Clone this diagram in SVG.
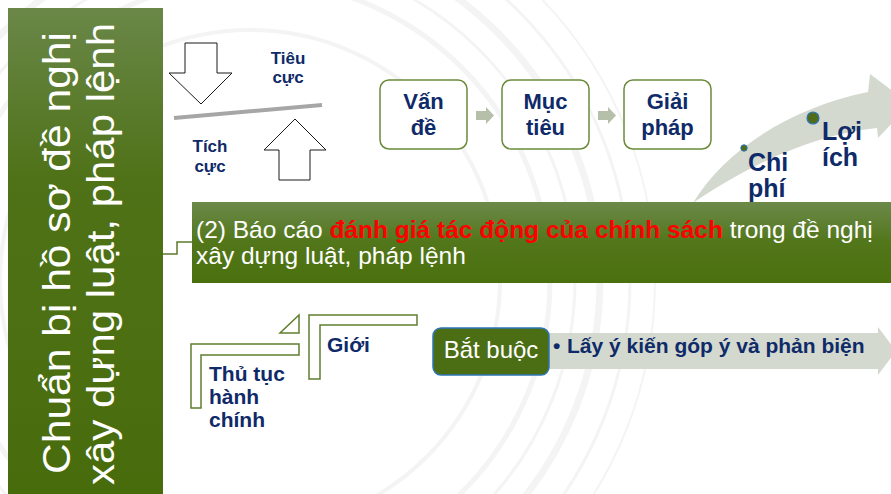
<svg xmlns="http://www.w3.org/2000/svg" width="891" height="494" viewBox="0 0 891 494">
<defs>
<linearGradient id="gBar" x1="0" y1="0" x2="0" y2="1">
<stop offset="0" stop-color="#6a8748"/>
<stop offset="0.35" stop-color="#4f7218"/>
<stop offset="1" stop-color="#486c0c"/>
</linearGradient>
<linearGradient id="gBand" x1="0" y1="0" x2="0" y2="1">
<stop offset="0" stop-color="#6b8a4a"/>
<stop offset="0.5" stop-color="#52761a"/>
<stop offset="1" stop-color="#4a700e"/>
</linearGradient>
<style>
.navy{fill:#0f2a68;font-family:"Liberation Sans",Arial,sans-serif;font-weight:bold}
.white{fill:#ffffff;font-family:"Liberation Sans",Arial,sans-serif}
.box{fill:#ffffff;stroke:#6a8a3a;stroke-width:1.5}
.ol{fill:#ffffff;stroke:#5f7f2f;stroke-width:1.5}
.blk{fill:#ffffff;stroke:#1a1a1a;stroke-width:1}
.grey{fill:#d3d9cf}
.arc{fill:none;stroke:#f4f4f4}
</style>
</defs>
<rect width="891" height="494" fill="#ffffff"/>
<g id="background">
<circle class="arc" cx="250" cy="280" r="250" stroke-width="4"/>
<circle class="arc" cx="250" cy="280" r="300" stroke-width="5"/>
<circle class="arc" cx="250" cy="280" r="325" stroke-width="3"/>
<circle class="arc" cx="250" cy="280" r="350" stroke-width="7"/>
<circle class="arc" cx="250" cy="280" r="380" stroke-width="3"/>
<circle class="arc" cx="250" cy="280" r="405" stroke-width="2"/>
</g>

<g id="title-bar">
<rect x="8" y="8" width="155" height="486" fill="url(#gBar)"/>
<text class="white" font-size="39" text-anchor="middle" transform="translate(70,253) rotate(-90)" textLength="442" lengthAdjust="spacingAndGlyphs">Chuẩn bị hồ sơ đề nghị</text>
<text class="white" font-size="39" text-anchor="middle" transform="translate(114,254) rotate(-90)" textLength="462" lengthAdjust="spacingAndGlyphs">xây dựng luật, pháp lệnh</text>
</g>

<g id="balance">
<polygon class="blk" points="185,43 217,43 217,73 232,73 201,104 169,73 185,73"/>
<line x1="174" y1="118" x2="322" y2="105" stroke="#a6a6a6" stroke-width="4"/>
<polygon class="blk" points="295,119 326,150 310,150 310,180 279,180 279,150 264,150"/>
<text class="navy" font-size="17" text-anchor="middle"><tspan x="288" y="64">Tiêu</tspan><tspan x="288" y="83">cực</tspan></text>
<text class="navy" font-size="17" text-anchor="middle"><tspan x="210" y="152">Tích</tspan><tspan x="210" y="172">cực</tspan></text>
</g>

<g id="node-van-de">
<rect class="box" x="380" y="80" width="87" height="69" rx="9"/>
<text class="navy" font-size="22" text-anchor="middle"><tspan x="423.5" y="109">Vấn</tspan><tspan x="423.5" y="135">đề</tspan></text>
</g>
<g id="node-muc-tieu">
<rect class="box" x="502" y="80" width="87" height="69" rx="9"/>
<text class="navy" font-size="22" text-anchor="middle"><tspan x="545.5" y="109">Mục</tspan><tspan x="545.5" y="135">tiêu</tspan></text>
</g>
<g id="node-giai-phap">
<rect class="box" x="624" y="80" width="87" height="69" rx="9"/>
<text class="navy" font-size="22" text-anchor="middle"><tspan x="667.5" y="109">Giải</tspan><tspan x="667.5" y="135">pháp</tspan></text>
</g>

<g id="cost-benefit">
<path class="grey" d="M693,203 C725,150 790,108 868,92 L870,74 L910,104 L878,138 L877,128 C820,134 760,158 693,203 Z"/>
<circle cx="744" cy="148" r="3.2" fill="#4f6b1c" stroke="#2e75b6" stroke-width="1"/>
<circle cx="813" cy="118" r="6" fill="#4f6b1c" stroke="#2e75b6" stroke-width="1.2"/>
<text class="navy" font-size="25"><tspan x="748" y="171">Chi</tspan><tspan x="748" y="197">phí</tspan></text>
<text class="navy" font-size="25"><tspan x="822" y="140">Lợi</tspan><tspan x="822" y="166">ích</tspan></text>
</g>

<g id="band-report">
<rect x="192" y="202" width="699" height="81" fill="url(#gBand)"/>
<text class="white" font-size="24.5" x="196" y="238">(2) Báo cáo <tspan fill="#ff0000" font-weight="bold">đánh giá tác động của chính sách</tspan> trong đề nghị</text>
<text class="white" font-size="24.5" x="196" y="264">xây dựng luật, pháp lệnh</text>
</g>

<g id="node-thu-tuc">
<polygon class="ol" points="280,333 299,333 299,315"/>
<polygon class="ol" points="191,344 299,344 299,355 201,355 201,408 191,408"/>
<text class="navy" font-size="21"><tspan x="209" y="381">Thủ  tục</tspan><tspan x="209" y="404">hành</tspan><tspan x="209" y="427">chính</tspan></text>
</g>
<g id="node-gioi">
<polygon class="ol" points="309,315 417,315 417,325 320,325 320,379 309,379"/>
<text class="navy" font-size="21" x="327" y="352">Giới</text>
</g>

<g id="node-lay-y-kien">
<polygon class="grey" points="545,333 878,333 878,327 896,351 878,375 878,369 545,369"/>
<text class="navy" font-size="21" x="553" y="353">•</text>
<text class="navy" font-size="21" x="567" y="353">Lấy ý kiến góp ý và phản biện</text>
</g>
<g id="node-bat-buoc">
<rect x="433" y="328" width="116" height="47" rx="8" fill="#4b6e15" stroke="#2e75b6" stroke-width="1.5"/>
<text class="white" font-size="24" text-anchor="middle" x="491" y="358">Bắt buộc</text>
</g>

<g id="connectors">
<polyline points="163,254 177,254 177,242 192,242" fill="none" stroke="#5b7b2b" stroke-width="1.5"/>
<polygon fill="#b5bfa9" points="476,111 486,111 486,107 494,115.5 486,124 486,120 476,120"/>
<polygon fill="#b5bfa9" points="598,111 608,111 608,107 616,115.5 608,124 608,120 598,120"/>
</g>
</svg>
